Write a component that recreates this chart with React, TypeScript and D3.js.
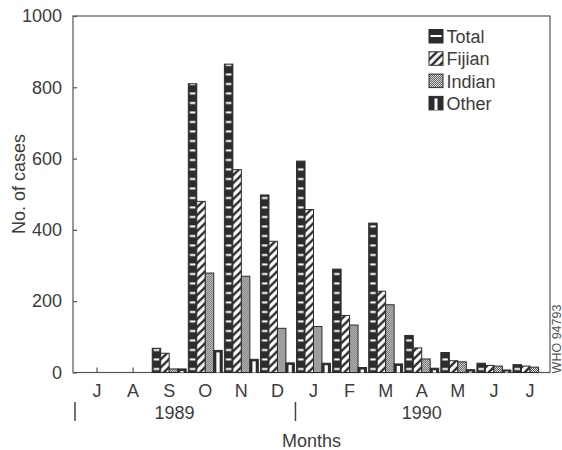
import React, { useEffect, useRef } from "react";
import * as d3 from "d3";

const months = ["J", "A", "S", "O", "N", "D", "J", "F", "M", "A", "M", "J", "J"];
const seriesNames = ["Total", "Fijian", "Indian", "Other"];
const total = [0, 0, 68, 810, 865, 498, 593, 290, 419, 104, 56, 26, 22];
const fijian = [0, 0, 54, 480, 569, 368, 457, 160, 228, 69, 33, 20, 18];
const indian = [0, 0, 10, 279, 270, 124, 129, 133, 190, 38, 30, 18, 15];
const other = [0, 0, 10, 62, 37, 27, 26, 14, 24, 12, 8, 7, 0];
const yTicks = [0, 200, 400, 600, 800, 1000];
const years = ["1989", "1990"];

const INK = "#2c2c2c";
const TEXT = "#3c3c3c";
const FONT = "'Liberation Sans', Arial, sans-serif";

function App() {
  const ref = useRef(null);

  function drawChart() {
    const width = 562, height = 450;
    const margin = { top: 16, right: 12, bottom: 77.5, left: 73 };
    const plotRight = width - margin.right;
    const plotBottom = height - margin.bottom;

    const svg = d3.select(ref.current);
    svg.selectAll("*").remove();
    svg.attr("width", width).attr("height", height);

    const x = d3.scaleBand()
      .domain(d3.range(months.length))
      .range([margin.left + 6, plotRight - 2])
      .paddingInner(0.06)
      .paddingOuter(0.03);

    const xs = d3.scaleBand()
      .domain(seriesNames)
      .range([0, x.bandwidth()]);

    const y = d3.scaleLinear()
      .domain([0, 1000])
      .range([plotBottom, margin.top]);

    const bw = xs.bandwidth();
    const defs = svg.append("defs");

    // total: dark bar with short white dashes (bars sit at x=0 inside their group)
    const pTotal = defs.append("pattern")
      .attr("id", "pTotal")
      .attr("patternUnits", "userSpaceOnUse")
      .attr("x", 0)
      .attr("y", y(0))
      .attr("width", 40)
      .attr("height", 9.5);
    pTotal.append("rect").attr("width", 40).attr("height", 9.5).attr("fill", INK);
    pTotal.append("rect")
      .attr("x", (bw - 5.5) / 2)
      .attr("y", 5)
      .attr("width", 5.5)
      .attr("height", 2)
      .attr("fill", "#fff");

    // fijian: diagonal hatch
    const pFij = defs.append("pattern")
      .attr("id", "pFij")
      .attr("patternUnits", "userSpaceOnUse")
      .attr("width", 8)
      .attr("height", 8);
    pFij.append("rect").attr("width", 8).attr("height", 8).attr("fill", "#fff");
    pFij.append("path")
      .attr("d", "M-2,2L2,-2M0,8L8,0M6,10L10,6")
      .attr("stroke", INK)
      .attr("stroke-width", 2.3);

    // indian: stipple
    const pInd = defs.append("pattern")
      .attr("id", "pInd")
      .attr("patternUnits", "userSpaceOnUse")
      .attr("width", 2)
      .attr("height", 2);
    pInd.append("rect").attr("width", 2).attr("height", 2).attr("fill", "#e6e6e6");
    pInd.append("rect").attr("width", 1).attr("height", 1).attr("fill", "#555");
    pInd.append("rect").attr("x", 1).attr("y", 1).attr("width", 1).attr("height", 1).attr("fill", "#555");

    // frame
    svg.append("rect")
      .attr("x", margin.left)
      .attr("y", margin.top)
      .attr("width", plotRight - margin.left)
      .attr("height", plotBottom - margin.top)
      .attr("fill", "none")
      .attr("stroke", "#555")
      .attr("stroke-width", 1.2);

    // y axis
    const yAxis = svg.append("g")
      .attr("transform", `translate(${margin.left},0)`)
      .call(d3.axisLeft(y).tickValues(yTicks).tickFormat(d3.format("d")).tickSize(-4).tickPadding(11))
      .call(g => g.select(".domain").remove());
    yAxis.selectAll("line").attr("stroke", "#555").attr("stroke-width", 1.2);
    yAxis.selectAll("text")
      .attr("fill", TEXT)
      .style("font-size", "18px")
      .style("font-family", FONT);

    // month ticks
    svg.append("g")
      .selectAll("line")
      .data(months)
      .join("line")
      .attr("x1", (d, i) => x(i) + x.bandwidth() / 2)
      .attr("x2", (d, i) => x(i) + x.bandwidth() / 2)
      .attr("y1", y(0))
      .attr("y2", y(0) - 5)
      .attr("stroke", "#555")
      .attr("stroke-width", 1.2);

    const rows = months.map((m, i) => ({ i, values: [total[i], fijian[i], indian[i], other[i]] }));
    const fills = ["url(#pTotal)", "url(#pFij)", "url(#pInd)", INK];

    const groups = svg.append("g")
      .selectAll("g")
      .data(rows)
      .join("g")
      .attr("transform", d => `translate(${x(d.i)},0)`);

    groups.selectAll("rect")
      .data(d => d.values.map((v, k) => ({ k, v })).filter(e => e.v > 0))
      .join("rect")
      .attr("x", d => xs(seriesNames[d.k]))
      .attr("y", d => y(d.v))
      .attr("width", bw)
      .attr("height", d => y(0) - y(d.v))
      .attr("fill", d => fills[d.k])
      .attr("stroke", INK)
      .attr("stroke-width", 1);

    // other: white core inside the dark bar
    groups.selectAll("rect.core")
      .data(d => (d.values[3] > 0 ? [d.values[3]] : []))
      .join("rect")
      .attr("class", "core")
      .attr("x", xs("Other") + 2.6)
      .attr("y", d => Math.min(y(d) + 2, y(0) - 1))
      .attr("width", bw - 5.2)
      .attr("height", d => Math.max(y(0) - y(d) - 2, 1))
      .attr("fill", "#fff");

    // month labels
    svg.append("g")
      .selectAll("text")
      .data(months)
      .join("text")
      .attr("x", (d, i) => x(i) + x.bandwidth() / 2)
      .attr("y", 397)
      .attr("text-anchor", "middle")
      .attr("fill", TEXT)
      .style("font-size", "18px")
      .style("font-family", FONT)
      .text(d => d);

    // year separators and labels
    const sep = [margin.left + 2, x(6) - (x.step() - x.bandwidth()) / 2];
    svg.append("g")
      .selectAll("line")
      .data(sep)
      .join("line")
      .attr("x1", d => d)
      .attr("x2", d => d)
      .attr("y1", 402)
      .attr("y2", 421)
      .attr("stroke", "#444")
      .attr("stroke-width", 1.5);

    const yearX = [x(2) + x.step() * 0.62, x(9) + x.bandwidth() / 2];
    svg.append("g")
      .selectAll("text")
      .data(years)
      .join("text")
      .attr("x", (d, i) => yearX[i])
      .attr("y", 419)
      .attr("text-anchor", "middle")
      .attr("fill", TEXT)
      .style("font-size", "18px")
      .style("font-family", FONT)
      .text(d => d);

    svg.append("text")
      .attr("x", (margin.left + plotRight) / 2)
      .attr("y", 447)
      .attr("text-anchor", "middle")
      .attr("fill", TEXT)
      .style("font-size", "18px")
      .style("font-family", FONT)
      .text("Months");

    svg.append("text")
      .attr("transform", "translate(25,184) rotate(-90)")
      .attr("text-anchor", "middle")
      .attr("fill", TEXT)
      .style("font-size", "18px")
      .style("font-family", FONT)
      .text("No. of cases");

    svg.append("text")
      .attr("transform", "translate(560.5,339) rotate(-90)")
      .attr("text-anchor", "middle")
      .attr("fill", "#555")
      .style("font-size", "12.5px")
      .style("font-family", FONT)
      .text("WHO 94793");

    // legend
    const legend = svg.append("g")
      .selectAll("g")
      .data(seriesNames)
      .join("g")
      .attr("transform", (d, i) => `translate(429,${29.5 + i * 22.3})`);

    legend.append("rect")
      .attr("width", 14)
      .attr("height", 13.5)
      .attr("fill", (d, i) => [INK, "url(#pFij)", "url(#pInd)", INK][i])
      .attr("stroke", INK)
      .attr("stroke-width", 1);
    legend.filter(d => d === "Total")
      .append("rect")
      .attr("x", 1.5).attr("y", 5.5).attr("width", 11).attr("height", 2)
      .attr("fill", "#fff");
    legend.filter(d => d === "Other")
      .append("rect")
      .attr("x", 5.5).attr("y", 2).attr("width", 3).attr("height", 11.5)
      .attr("fill", "#fff");

    legend.append("text")
      .attr("x", 17.5)
      .attr("y", 13.5)
      .attr("fill", TEXT)
      .style("font-size", "18px")
      .style("font-family", FONT)
      .text(d => d);
  }

  useEffect(() => {
    document.body.style.margin = "0";
    drawChart();
  }, []);

  return (
    <div className="BarChart">
      <svg ref={ref} style={{ display: "block" }}></svg>
    </div>
  );
}

export default App;
